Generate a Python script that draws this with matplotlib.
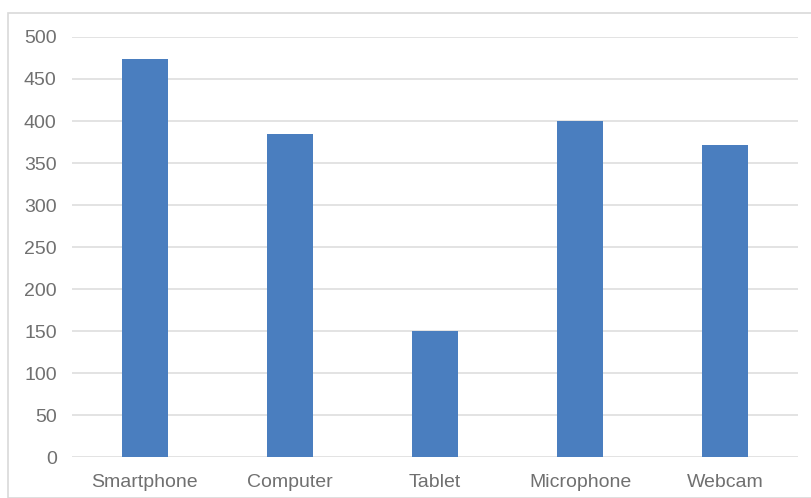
import matplotlib
import matplotlib.pyplot as plt
from matplotlib.patches import Rectangle
import numpy as np

matplotlib.rc('font', family='Liberation Sans', size=14)

devices = ['Smartphone', 'Computer', 'Tablet', 'Microphone', 'Webcam']
counts = [474, 385, 150, 400, 371]

W, H = 811, 498
fig = plt.figure(figsize=(W / 100, H / 100), dpi=100)

# light frame around the chart area
fig.patches.append(Rectangle((8 / W, 0), 1, 1 - 13 / H, transform=fig.transFigure,
                             fill=False, edgecolor='#d9d9d9', linewidth=1.2))

ax = fig.add_axes([72 / W, 1 - 457 / H, (798 - 72) / W, (457 - 37) / H])
x = np.arange(len(devices))
ax.bar(x, counts, 0.317, color='#4a7ebf', zorder=3)

ax.set_xlim(-0.5, len(devices) - 0.5)
ax.set_ylim(0, 500)
ax.set_yticks(np.arange(0, 501, 50))
ax.set_xticks(x)
ax.set_xticklabels(devices)
ax.grid(axis='y', color='#e0e0e0', linewidth=1.3, zorder=0)
for s in ax.spines.values():
    s.set_visible(False)
ax.tick_params(length=0, colors='#707070', pad=11)
ax.tick_params(axis='x', pad=12)

fig.savefig('out.png', dpi=100)
